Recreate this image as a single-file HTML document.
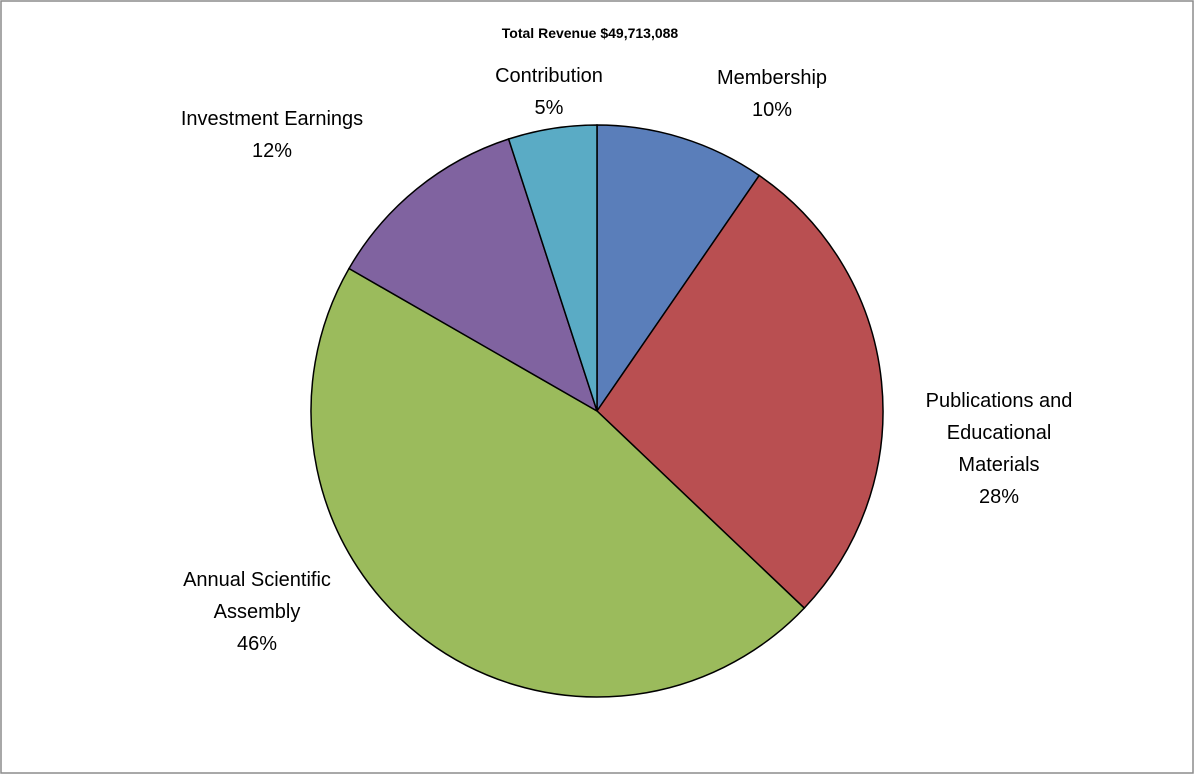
<!DOCTYPE html>
<html><head><meta charset="utf-8"><style>
html,body{margin:0;padding:0;background:#fff;}
svg{display:block;font-family:"Liberation Sans",sans-serif;}
</style></head><body>
<svg id="chart" width="1195" height="775" viewBox="0 0 1195 775">
<rect x="1" y="1" width="1192" height="772" fill="#fff" stroke="#8c8c8c" stroke-width="1.5"/>
<text x="590" y="38" text-anchor="middle" font-size="14" font-weight="bold" fill="#000">Total Revenue $49,713,088</text>
<g id="slices"></g>
<g id="labels" font-size="20" fill="#000"></g>
</svg>
<script>
const categories = ["Membership","Publications and Educational Materials","Annual Scientific Assembly","Investment Earnings","Contribution"];
const values = [9.6, 27.5, 46.2, 11.7, 5.0];
const colors = ["#5A7EBA","#B94F51","#9BBB5C","#8063A0","#5AABC5"];
const labelLines = [["Membership"],["Publications and","Educational","Materials"],["Annual Scientific","Assembly"],["Investment Earnings"],["Contribution"]];
const labelPos = [[772,84],[999,407],[257,586],[272,125],[549,82]];

const cx=597, cy=411, r=286;
const total = values.reduce((a,b)=>a+b,0);
const ns="http://www.w3.org/2000/svg";
const gS=document.getElementById("slices"), gL=document.getElementById("labels");
function pt(a){return [cx+r*Math.sin(a), cy-r*Math.cos(a)];}
let acc=0;
values.forEach((v,i)=>{
  const a0=acc/total*2*Math.PI; acc+=v; const a1=acc/total*2*Math.PI;
  const p0=pt(a0), p1=pt(a1);
  const large=(a1-a0)>Math.PI?1:0;
  const p=document.createElementNS(ns,"path");
  p.setAttribute("d",`M${cx},${cy} L${p0[0]},${p0[1]} A${r},${r} 0 ${large} 1 ${p1[0]},${p1[1]} Z`);
  p.setAttribute("fill",colors[i]);
  p.setAttribute("stroke","#000");
  p.setAttribute("stroke-width","1.5");
  
  
  gS.appendChild(p);
  const t=document.createElementNS(ns,"text");
  t.setAttribute("text-anchor","middle");
  
  
  const lines=labelLines[i].concat([Math.round(v)+"%"]);
  lines.forEach((s,j)=>{
    const ts=document.createElementNS(ns,"tspan");
    ts.setAttribute("x",labelPos[i][0]);
    ts.setAttribute("y",labelPos[i][1]+j*32);
    ts.textContent=s;
    t.appendChild(ts);
  });
  gL.appendChild(t);
});
</script>
</body></html>
